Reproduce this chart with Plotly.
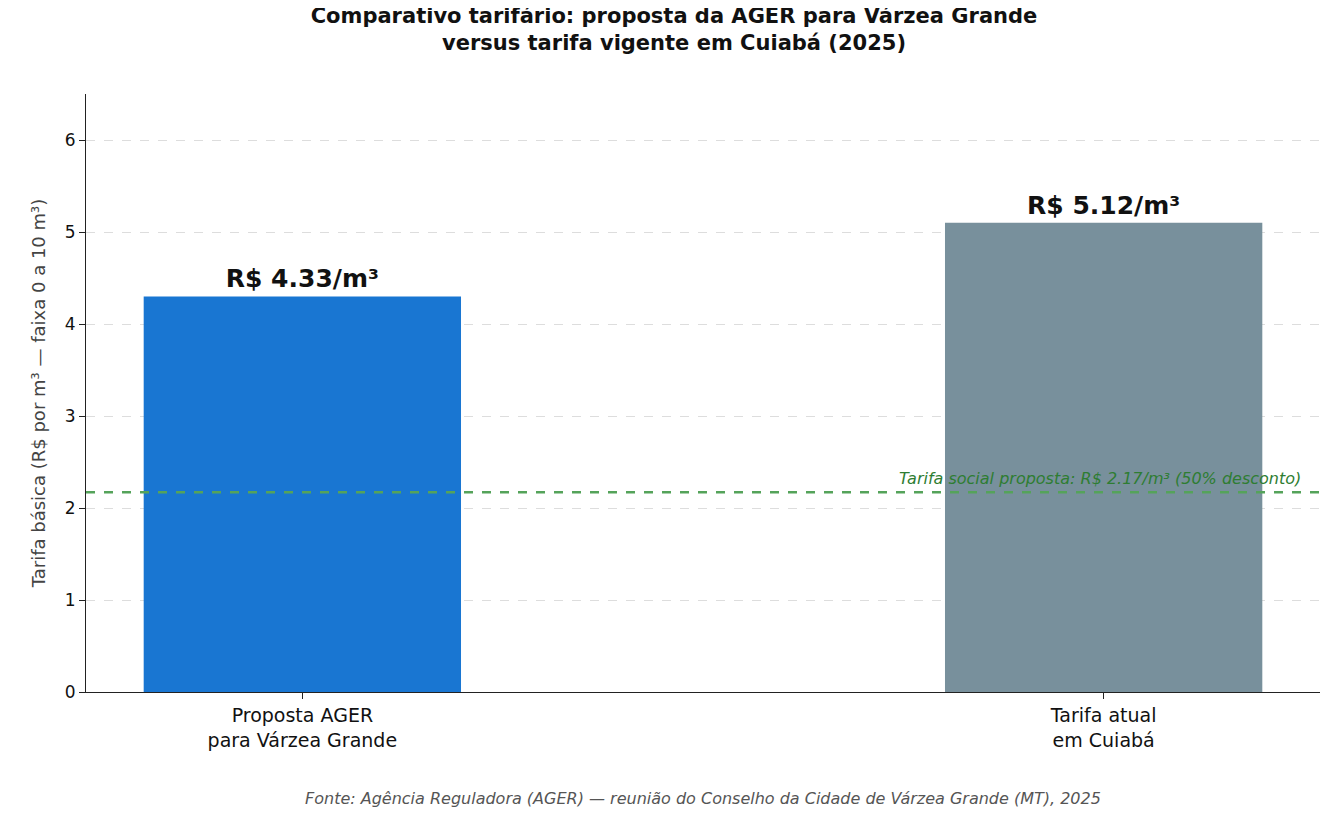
import plotly.graph_objects as go

categories = ["Proposta AGER<br>para Várzea Grande", "Tarifa atual<br>em Cuiabá"]
bar_values = [4.30, 5.10]
bar_labels = ["<b>R$ 4.33/m³</b>", "<b>R$ 5.12/m³</b>"]
bar_colors = ["#1976D2", "#78909C"]
social_tariff = 2.17
y_ticks = [0, 1, 2, 3, 4, 5, 6]

x_pos = list(range(len(categories)))
F = "DejaVu Sans"

fig = go.Figure()
fig.add_trace(go.Bar(
    x=x_pos, y=bar_values, width=0.396, marker=dict(color=bar_colors, line=dict(width=0)),
    text=bar_labels, textposition="outside", cliponaxis=False,
    textfont=dict(family=F, size=25, color="#111111"), showlegend=False, hoverinfo="skip"))
fig.add_shape(type="line", xref="paper", x0=0, x1=1, y0=social_tariff, y1=social_tariff,
              line=dict(color="#55A35A", width=2.5, dash="dash"))
fig.add_annotation(xref="paper", x=0.986, y=social_tariff, yshift=2, xanchor="right", yanchor="bottom",
                   text="<i>Tarifa social proposta: R$ 2.17/m³ (50% desconto)</i>", showarrow=False,
                   font=dict(family=F, size=16, color="#2E7D32"))
fig.add_annotation(xref="paper", yref="paper", x=0.5, y=-0.178, xanchor="center", yanchor="middle",
                   text="<i>Fonte: Agência Reguladora (AGER) — reunião do Conselho da Cidade de Várzea Grande (MT), 2025</i>",
                   showarrow=False, font=dict(family=F, size=16, color="#555555"))
fig.update_layout(
    width=1332, height=824, margin=dict(l=78, r=20, t=86, b=140),
    paper_bgcolor="white", plot_bgcolor="white",
    title=dict(text="<b>Comparativo tarifário: proposta da AGER para Várzea Grande<br>versus tarifa vigente em Cuiabá (2025)</b>",
               x=0.5, xanchor="center", y=0.982, yanchor="top", font=dict(family=F, size=21, color="#111111")),
    xaxis=dict(range=[-0.27, 1.27], tickvals=x_pos, ticktext=categories, showline=True, linecolor="#222",
               ticks="outside", ticklen=6, tickcolor="#222", showgrid=False, zeroline=False,
               tickfont=dict(family=F, size=19, color="#111")),
    yaxis=dict(range=[0, 6.5], tickvals=y_ticks, showline=True, linecolor="#222", ticks="outside", ticklen=6,
               tickcolor="#222", showgrid=True, gridcolor="#DDDDDD", griddash="dash", zeroline=False,
               tickfont=dict(family=F, size=17, color="#111"),
               title=dict(text="Tarifa básica (R$ por m³ — faixa 0 a 10 m³)", standoff=14,
                          font=dict(family=F, size=18, color="#444"))),
)
fig.write_html("out.html")
